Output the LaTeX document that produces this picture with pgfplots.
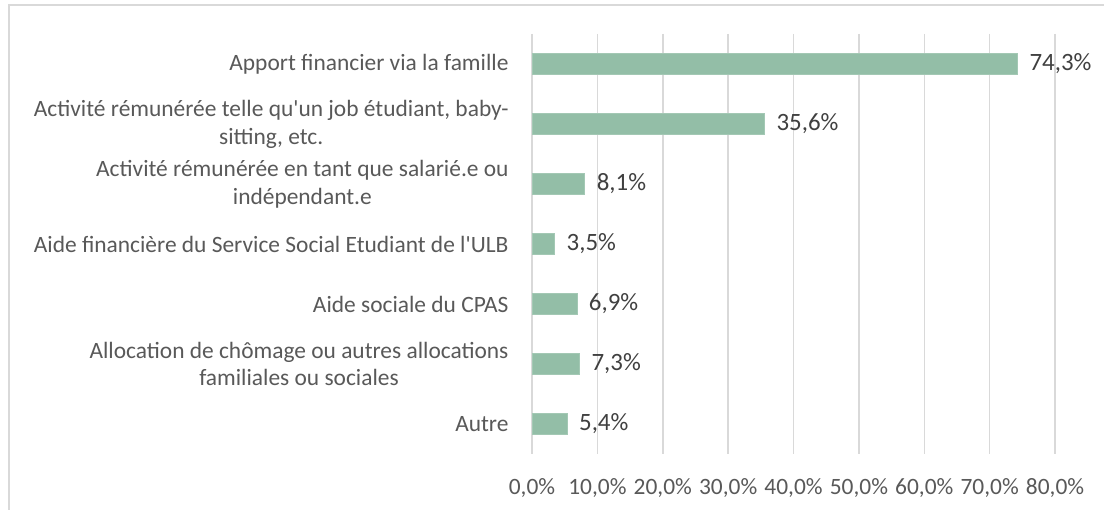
\documentclass[border=0pt]{standalone}
\usepackage{fontspec}
\setmainfont{Carlito}[Ligatures=TeXOff]
\usepackage{pgfplots}
\pgfplotsset{compat=1.18}
\definecolor{barc}{RGB}{147,190,167}
\definecolor{gridc}{RGB}{217,217,217}
\definecolor{labc}{RGB}{89,89,89}
\definecolor{datc}{RGB}{64,64,64}
\begin{document}
\begin{tikzpicture}[x=1bp,y=1bp]
\path[use as bounding box,fill=white] (0,0) rectangle (1104,510);
\draw[gridc,line width=1.5bp] (9,0) -- (9,505) -- (1104,505);
\begin{axis}[
  at={(532bp,56bp)}, anchor=south west,
  scale only axis, width=523bp, height=420bp,
  xbar, bar width=21bp,
  xmin=0, xmax=80, ymin=-0.5, ymax=6.5,
  y dir=reverse,
  axis line style={draw=none},
  major tick length=0,
  xmajorgrids, grid style={gridc,line width=1.5bp},
  xtick={0,10,...,80},
  ytick={0,...,6},
  /pgf/number format/assume math mode=true,
  xticklabel={\pgfmathprintnumber[fixed,fixed zerofill,precision=1,use comma]{\tick}\%},
  xticklabel style={font=\fontsize{23.5}{28}\selectfont, text=labc, yshift=-21bp},
  yticklabels={Apport financier via la famille,
    {Activité rémunérée telle qu'un job étudiant, baby-\\sitting, etc.},
    {Activité rémunérée en tant que salarié.e ou\\indépendant.e},
    {Aide financière du Service Social Etudiant de l'ULB},
    Aide sociale du CPAS,
    {Allocation de chômage ou autres allocations\\familiales ou sociales},
    Autre},
  yticklabel style={font=\fontsize{23.5}{28}\selectfont, text=labc, align=center, xshift=-20bp},
  nodes near coords={\pgfmathprintnumber[fixed,fixed zerofill,precision=1,use comma]{\pgfplotspointmeta}\%},
  nodes near coords style={font=\fontsize{25}{28}\selectfont, text=datc, anchor=west, xshift=8bp},
  clip=false,
]
\addplot[fill=barc, draw=barc!85!white, line width=1bp] coordinates {
  (74.3,0) (35.6,1) (8.1,2) (3.5,3) (6.9,4) (7.3,5) (5.4,6)
};
\end{axis}
\end{tikzpicture}
\end{document}
